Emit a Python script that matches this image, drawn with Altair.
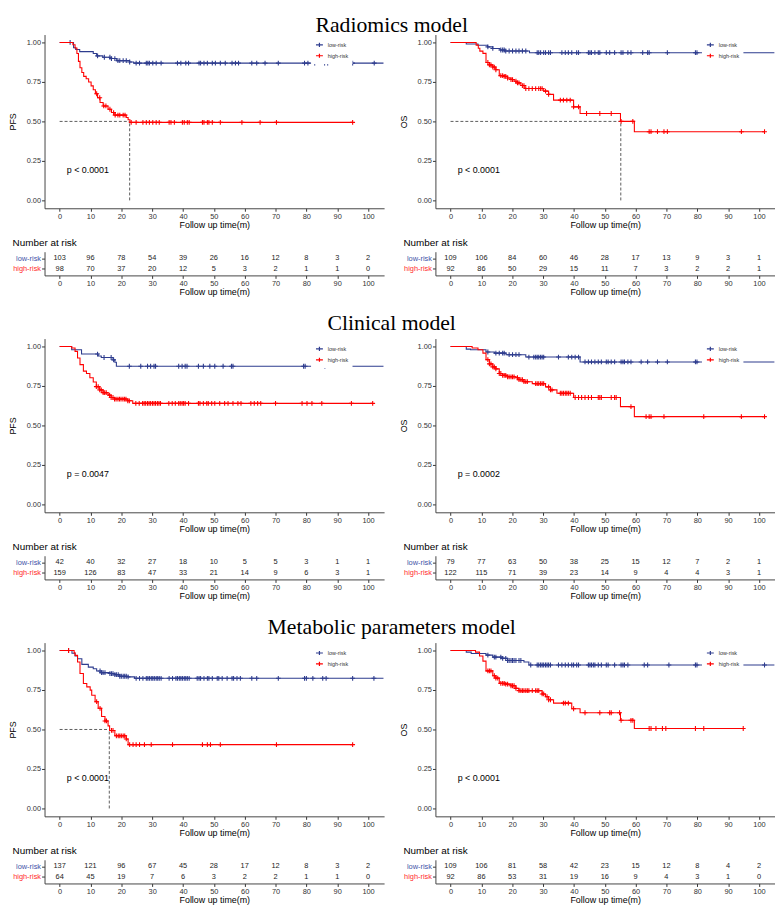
import altair as alt
import pandas as pd

BLUE = "#2E3C8E"
RED = "#FF0000"
LBL_BLUE = "#4252A8"
LBL_RED = "#FF2A2A"
AXC = "#333333"
SANS = "Liberation Sans"
SERIF = "Liberation Serif"

GROUPS = ["low-risk", "high-risk"]
MONTHS = [0, 10, 20, 30, 40, 50, 60, 70, 80, 90, 100]
ROW_TITLES = ["Radiomics model", "Clinical model", "Metabolic parameters model"]

# ---------------- Radiomics PFS ----------------
A_low_t = [0, 4.5, 5.2, 6.5, 10.9, 12.0, 14.0, 16.4, 18.5, 22.7, 24.0, 105]
A_low_s = [1, 0.966, 0.955, 0.942, 0.93, 0.915, 0.906, 0.898, 0.885, 0.876, 0.869, 0.869]
A_high_t = [0, 4.3, 5.0, 5.6, 6.1, 6.6, 7.2, 7.8, 8.6, 9.4, 10.2, 10.9, 11.6, 12.3, 13.1, 14.1, 15.7, 16.8, 17.9, 21.6, 22.2, 22.8, 95]
A_high_s = [1, 0.985, 0.965, 0.93, 0.88, 0.84, 0.81, 0.785, 0.77, 0.75, 0.725, 0.70, 0.675, 0.65, 0.62, 0.598, 0.577, 0.556, 0.54, 0.525, 0.51, 0.494, 0.494]
A_cens_low = [3.4, 12.3, 14.5, 16.3, 16.8, 17.9, 18.9, 19.5, 20.6, 21.6, 22.7, 24.8, 25.9, 28.1, 28.6, 29.1, 30.2, 31.3, 32.9, 38.2, 39.3, 40.9, 41.8, 45.2, 45.7, 46.8, 47.9, 49.5, 50.5, 52.1, 53.7, 55.9, 57.0, 58.0, 62.3, 63.9, 66.6, 70.9, 79.4, 80.5, 82.7, 85.9, 86.9, 95.0, 102.0]
A_cens_high = [12.0, 13.0, 14.3, 15.0, 16.3, 17.5, 18.0, 18.9, 19.5, 20.6, 21.2, 23.2, 24.8, 27.0, 28.1, 29.1, 30.2, 31.3, 32.3, 35.5, 36.1, 37.2, 39.8, 40.4, 41.4, 42.0, 46.3, 46.8, 47.9, 48.4, 49.5, 52.1, 59.1, 65.0, 70.3, 95.0]
A_risk_low = [103, 96, 78, 54, 39, 26, 16, 12, 8, 3, 2]
A_risk_high = [98, 70, 37, 20, 12, 5, 3, 2, 1, 1, 0]

# ---------------- Radiomics OS ----------------
B_low_t = [0, 5.1, 8.9, 12.0, 13.7, 16.0, 17.5, 25.6, 105]
B_low_s = [1, 0.99, 0.982, 0.972, 0.962, 0.952, 0.946, 0.935, 0.935]
B_high_t = [0, 8.3, 9.0, 9.5, 10.5, 11.5, 12.6, 13.7, 14.7, 15.8, 17.4, 18.5, 19.6, 20.6, 21.7, 22.8, 24.1, 30.2, 31.8, 33.4, 39.9, 42.0, 55.1, 59.6, 101.8]
B_high_s = [1, 0.983, 0.963, 0.945, 0.931, 0.873, 0.858, 0.844, 0.827, 0.79, 0.785, 0.775, 0.765, 0.754, 0.744, 0.727, 0.708, 0.692, 0.671, 0.635, 0.592, 0.55, 0.5, 0.435, 0.435]
B_cens_low = [12.1, 13.7, 16.3, 16.9, 17.4, 17.9, 19.0, 20.1, 21.2, 22.2, 23.3, 24.4, 28.1, 28.6, 29.2, 30.2, 30.8, 31.8, 32.4, 36.1, 37.2, 38.2, 39.3, 40.9, 41.5, 44.7, 45.2, 45.7, 46.8, 47.9, 48.4, 50.5, 51.6, 53.2, 55.3, 55.9, 57.5, 58.5, 62.3, 63.9, 64.4, 70.3, 79.4, 79.9]
B_cens_high = [12.1, 12.6, 13.1, 13.7, 14.2, 14.7, 16.3, 16.9, 17.4, 17.9, 18.5, 19.6, 20.1, 21.2, 21.7, 22.2, 23.3, 23.8, 24.4, 25.4, 26.5, 27.6, 28.6, 29.2, 29.7, 30.8, 31.8, 35.6, 36.6, 37.7, 38.8, 39.9, 41.5, 44.1, 48.4, 52.1, 55.3, 59.1, 64.4, 65.0, 67.1, 69.2, 70.3, 94.3, 101.8]
B_risk_low = [109, 106, 84, 60, 46, 28, 17, 13, 9, 3, 1]
B_risk_high = [92, 86, 50, 29, 15, 11, 7, 3, 2, 2, 1]

# ---------------- Clinical PFS ----------------
C_low_t = [0, 3.9, 7.1, 12.5, 13.5, 17.3, 17.9, 18.4, 105]
C_low_s = [1, 0.979, 0.952, 0.94, 0.93, 0.915, 0.9, 0.875, 0.875]
C_high_t = [0, 3.9, 5.0, 5.8, 6.6, 7.7, 8.7, 9.8, 10.9, 11.9, 13.0, 14.1, 15.7, 16.7, 17.8, 22.1, 23.7, 101.5]
C_high_s = [1, 0.99, 0.969, 0.927, 0.885, 0.844, 0.829, 0.802, 0.775, 0.746, 0.725, 0.708, 0.692, 0.677, 0.667, 0.656, 0.64, 0.64]
C_cens_low = [12.3, 14.4, 16.7, 17.5, 22.6, 26.3, 28.5, 29.5, 30.6, 31.1, 38.6, 39.7, 40.7, 41.3, 45.0, 46.6, 48.7, 50.3, 53.0, 55.7, 56.2, 79.1, 79.6, 86.0]
C_cens_high = [11.9, 12.5, 13.0, 13.5, 14.1, 14.6, 15.1, 16.2, 16.7, 17.3, 17.8, 18.3, 18.9, 19.4, 19.9, 20.5, 21.0, 21.5, 22.1, 22.6, 24.7, 25.8, 26.9, 27.4, 27.9, 28.5, 29.0, 29.5, 30.1, 30.6, 31.1, 31.7, 32.2, 32.7, 35.4, 36.5, 37.5, 38.6, 39.1, 39.7, 40.2, 40.7, 41.8, 45.0, 45.5, 46.6, 47.7, 48.2, 49.3, 50.3, 51.9, 53.5, 54.6, 56.2, 57.8, 58.8, 62.0, 63.1, 64.2, 65.2, 70.0, 78.6, 80.2, 81.8, 85.0, 94.6, 101.5]
C_risk_low = [42, 40, 32, 27, 18, 10, 5, 5, 3, 1, 1]
C_risk_high = [159, 126, 83, 47, 33, 21, 14, 9, 6, 3, 1]

# ---------------- Clinical OS ----------------
D_low_t = [0, 5.1, 6.5, 11.5, 14.2, 18.0, 24.4, 42.0, 105]
D_low_s = [1, 0.983, 0.979, 0.965, 0.958, 0.948, 0.933, 0.902, 0.902]
D_high_t = [0, 7.0, 8.9, 10.5, 11.5, 12.6, 13.7, 14.7, 15.8, 16.9, 18.5, 21.2, 22.2, 23.8, 26.5, 30.8, 32.4, 34.5, 39.9, 55.1, 59.6, 101.8]
D_high_s = [1, 0.99, 0.979, 0.958, 0.917, 0.89, 0.871, 0.858, 0.829, 0.817, 0.808, 0.802, 0.79, 0.777, 0.765, 0.744, 0.725, 0.704, 0.677, 0.619, 0.556, 0.556]
D_cens_low = [12.1, 14.7, 15.8, 16.9, 17.4, 19.0, 20.1, 21.2, 22.2, 25.4, 27.0, 27.6, 28.1, 28.6, 29.2, 29.7, 30.2, 35.0, 38.2, 39.3, 40.4, 41.5, 43.6, 44.7, 45.7, 46.8, 47.9, 48.9, 50.5, 51.1, 52.1, 53.2, 55.3, 55.9, 56.4, 57.5, 58.5, 61.8, 63.9, 67.1, 70.3, 79.4, 79.9]
D_cens_high = [12.1, 12.6, 13.1, 13.7, 14.2, 14.7, 15.8, 16.3, 16.9, 17.4, 17.9, 18.5, 19.0, 19.6, 20.1, 20.6, 21.7, 22.2, 22.8, 23.3, 23.8, 24.4, 24.9, 27.6, 28.1, 28.6, 29.2, 29.7, 30.2, 31.8, 32.4, 32.9, 35.6, 36.1, 36.6, 37.2, 37.7, 38.2, 38.8, 40.4, 41.5, 42.5, 43.6, 44.7, 45.7, 47.9, 48.4, 48.9, 52.1, 53.2, 53.7, 58.5, 63.4, 64.4, 65.0, 69.2, 82.1, 94.3, 101.8]
D_risk_low = [79, 77, 63, 50, 38, 25, 15, 12, 7, 2, 1]
D_risk_high = [122, 115, 71, 39, 23, 14, 9, 4, 4, 3, 1]

# ---------------- Metabolic PFS ----------------
E_low_t = [0, 4.0, 5.0, 5.8, 7.2, 9.3, 10.9, 12.0, 13.6, 16.3, 17.9, 19.5, 22.2, 24.3, 105]
E_low_s = [1, 0.983, 0.965, 0.948, 0.912, 0.895, 0.885, 0.87, 0.86, 0.854, 0.847, 0.837, 0.833, 0.824, 0.824]
E_high_t = [0, 4.7, 5.0, 5.8, 6.6, 7.7, 8.8, 9.9, 10.4, 11.5, 12.5, 13.6, 14.7, 15.7, 16.2, 17.9, 21.6, 22.2, 95]
E_high_s = [1, 0.985, 0.969, 0.927, 0.854, 0.791, 0.77, 0.749, 0.717, 0.676, 0.634, 0.582, 0.554, 0.523, 0.494, 0.46, 0.44, 0.404, 0.404]
E_cens_low = [2.9, 13.1, 13.6, 14.1, 14.7, 16.3, 16.8, 17.3, 17.9, 18.4, 19.0, 19.5, 20.0, 20.6, 21.1, 21.6, 22.2, 24.8, 25.9, 27.0, 28.1, 28.6, 29.1, 29.7, 30.2, 30.7, 31.3, 31.8, 32.3, 32.9, 35.5, 36.6, 37.7, 38.2, 38.8, 39.3, 39.8, 40.4, 40.9, 41.4, 42.0, 44.6, 45.2, 45.7, 46.8, 47.9, 48.4, 49.5, 51.1, 51.6, 52.7, 54.3, 55.9, 56.4, 57.5, 58.6, 62.3, 63.9, 70.9, 79.4, 80.0, 82.1, 85.3, 86.4, 95.0, 101.9]
E_cens_high = [2.9, 12.0, 13.1, 14.7, 15.2, 16.8, 17.3, 18.4, 19.0, 19.5, 20.0, 20.6, 21.1, 21.6, 22.7, 23.8, 24.8, 25.9, 27.5, 29.7, 36.6, 46.3, 47.9, 48.9, 52.1, 70.3, 95.0]
E_risk_low = [137, 121, 96, 67, 45, 28, 17, 12, 8, 3, 2]
E_risk_high = [64, 45, 19, 7, 6, 3, 2, 2, 1, 1, 0]

# ---------------- Metabolic OS ----------------
F_low_t = [0, 5.1, 6.7, 11.5, 13.7, 16.9, 18.5, 23.8, 25.4, 105]
F_low_s = [1, 0.99, 0.981, 0.971, 0.958, 0.95, 0.937, 0.927, 0.908, 0.908]
F_high_t = [0, 8.1, 9.4, 10.5, 11.5, 13.7, 14.7, 15.8, 17.9, 19.6, 21.2, 22.2, 29.7, 30.8, 31.8, 33.4, 39.3, 42.0, 55.1, 59.6, 94.9]
F_high_s = [1, 0.99, 0.965, 0.933, 0.871, 0.84, 0.825, 0.792, 0.787, 0.777, 0.76, 0.746, 0.725, 0.708, 0.688, 0.667, 0.631, 0.606, 0.558, 0.506, 0.506]
F_cens_low = [12.1, 14.2, 14.7, 16.3, 16.9, 17.9, 18.5, 19.0, 19.6, 20.1, 20.6, 21.2, 22.2, 22.8, 26.0, 28.1, 28.6, 29.2, 29.7, 30.2, 30.8, 31.3, 31.8, 32.4, 35.0, 36.1, 37.2, 38.2, 39.3, 39.9, 40.9, 41.5, 44.7, 45.2, 45.7, 46.3, 46.8, 47.9, 48.9, 50.5, 51.1, 53.2, 55.3, 55.9, 56.4, 57.5, 62.8, 63.9, 70.8, 79.4, 79.9, 101.8]
F_cens_high = [12.1, 12.6, 13.1, 14.2, 14.7, 15.3, 16.3, 16.9, 17.4, 17.9, 18.5, 19.6, 20.1, 20.6, 21.2, 22.2, 22.8, 23.3, 23.8, 24.4, 24.9, 25.4, 26.5, 27.6, 28.1, 28.6, 29.7, 30.2, 31.3, 31.8, 32.4, 36.6, 37.2, 38.2, 39.9, 43.6, 48.4, 51.6, 52.1, 54.8, 55.3, 58.5, 59.1, 64.4, 65.0, 66.6, 68.7, 69.8, 79.4, 82.1, 94.9]
F_risk_low = [109, 106, 81, 58, 42, 23, 15, 12, 8, 4, 2]
F_risk_high = [92, 86, 53, 31, 19, 16, 9, 4, 3, 1, 0]

MEDIANS = {"A": 22.7, "B": 55.2, "E": 16.1}
P_TEXT = {"A": "p < 0.0001", "B": "p < 0.0001", "C": "p = 0.0047",
          "D": "p = 0.0002", "E": "p < 0.0001", "F": "p < 0.0001"}
Y_TITLE = {"A": "PFS", "B": "OS", "C": "PFS", "D": "OS", "E": "PFS", "F": "OS"}

G = globals()

W = 344
H = 176
TH = 24

XS = alt.Scale(domain=[-4.9, 105.2], nice=False, zero=False)
YS = alt.Scale(domain=[-0.05, 1.05], nice=False, zero=False)
CS = alt.Scale(domain=GROUPS, range=[BLUE, RED])

XAXIS = alt.Axis(values=MONTHS, title="Follow up time(m)", titleFont=SANS, titleFontSize=9,
                 titleFontWeight="normal", titleColor="black", titlePadding=1,
                 labelFont=SANS, labelFontSize=7.5, labelColor=AXC, labelPadding=1,
                 labelOverlap=False, tickSize=3, tickColor=AXC, domainColor="#444444",
                 grid=False, labelFlush=False)


def yaxis(title):
    return alt.Axis(values=[0, 0.25, 0.5, 0.75, 1.0], format=".2f", title=title,
                    titleFont=SANS, titleFontSize=9, titleFontWeight="normal", titleColor="black",
                    titlePadding=9, labelFont=SANS, labelFontSize=7.5, labelColor=AXC,
                    labelPadding=1, labelOverlap=False, tickSize=3, tickColor=AXC,
                    domainColor="#444444", grid=False)


LEG = alt.Legend(title=None, orient="none", legendX=270, legendY=2,
                 symbolType="M-1,0H1M0,-0.6V0.6", symbolSize=49, symbolStrokeWidth=1.2,
                 labelFont=SANS, labelFontSize=5.5, labelColor="#333333", labelOffset=4,
                 rowPadding=2, padding=4, fillColor="white")


def step_value(ts, ss, c):
    v = ss[0]
    for t, s in zip(ts, ss):
        if t <= c:
            v = s
        else:
            break
    return v


def km_chart(k):
    lt, ls = G[k + "_low_t"], G[k + "_low_s"]
    ht, hs = G[k + "_high_t"], G[k + "_high_s"]
    low = pd.DataFrame({"time": lt, "surv": ls, "group": "low-risk"})
    high = pd.DataFrame({"time": ht, "surv": hs, "group": "high-risk"})
    cl = G[k + "_cens_low"]
    ch = G[k + "_cens_high"]
    cens_low = pd.DataFrame({"time": cl, "surv": [step_value(lt, ls, c) for c in cl], "group": "low-risk"})
    cens_high = pd.DataFrame({"time": ch, "surv": [step_value(ht, hs, c) for c in ch], "group": "high-risk"})

    yax = yaxis(Y_TITLE[k])
    x = alt.X("time:Q", scale=XS, axis=XAXIS)
    y = alt.Y("surv:Q", scale=YS, axis=yax)
    col = alt.Color("group:N", scale=CS, legend=LEG)

    layers = []
    if k in MEDIANS:
        m = MEDIANS[k]
        med = pd.DataFrame({"time": [0, m], "time2": [m, m], "surv": [0.5, 0.0], "surv2": [0.5, 0.5]})
        layers.append(alt.Chart(med).mark_rule(color="#333333", strokeWidth=0.8, strokeDash=[3, 2]).encode(
            x=x, x2="time2:Q", y=y, y2="surv2:Q"))

    def line(df):
        return alt.Chart(df).mark_line(interpolate="step-after", strokeWidth=1.1, clip=True).encode(
            x=x, y=y, color=col)

    def pts(df):
        return alt.Chart(df).mark_point(shape="M-1,0H1M0,-1V1", size=24, filled=False,
                                        strokeWidth=1.1, opacity=1, clip=True).encode(
            x=x, y=y, color=col)

    layers += [line(low), pts(cens_low), line(high), pts(cens_high)]
    ptxt = pd.DataFrame({"label": [P_TEXT[k]]})
    layers.append(alt.Chart(ptxt).mark_text(align="left", baseline="middle", font=SANS, fontSize=9,
                                            color="black").encode(
        x=alt.X(datum=2.3, type="quantitative", scale=XS, axis=XAXIS),
        y=alt.Y(datum=0.19, type="quantitative", scale=YS, axis=yax),
        text="label:N"))
    return alt.layer(*layers).properties(width=W, height=H)


def risk_chart(k):
    df = pd.DataFrame({"time": MONTHS * 2,
                       "group": ["low-risk"] * len(MONTHS) + ["high-risk"] * len(MONTHS),
                       "n": G[k + "_risk_low"] + G[k + "_risk_high"]})
    yax = alt.Axis(title=None, labelFont=SANS, labelFontSize=7.5, labelPadding=1, tickSize=3,
                   tickColor=AXC, domainColor="#444444", grid=False,
                   labelColor={"condition": {"test": "datum.value == 'low-risk'", "value": LBL_BLUE},
                               "value": LBL_RED})
    return alt.Chart(df).mark_text(font=SANS, fontSize=7.5, color="#222222").encode(
        x=alt.X("time:Q", scale=XS, axis=XAXIS),
        y=alt.Y("group:N", scale=alt.Scale(type="point", domain=GROUPS, padding=0.65), axis=yax),
        text="n:Q",
    ).properties(width=W, height=TH,
                 title=alt.TitleParams("Number at risk", anchor="start", font=SANS, fontSize=10,
                                       fontWeight="normal", color="black", offset=4))


def panel(k):
    return alt.vconcat(km_chart(k), risk_chart(k), spacing=8).resolve_scale(
        color="independent").resolve_legend(color="independent")


rows = []
TITLE_OFFSETS = [-2, 4, 4]
for title, off, (a, b) in zip(ROW_TITLES, TITLE_OFFSETS, [("A", "B"), ("C", "D"), ("E", "F")]):
    r = alt.hconcat(panel(a), panel(b), spacing=15).resolve_scale(
        color="independent").resolve_legend(color="independent").properties(
        title=alt.TitleParams(title, font=SERIF, fontSize=22, fontWeight="normal",
                              anchor="middle", color="black", offset=off))
    rows.append(r)

chart = alt.vconcat(*rows, spacing=15).resolve_scale(color="independent").resolve_legend(
    color="independent").properties(padding={"left": 0, "top": 0, "right": 0, "bottom": 0}
).configure(font=SANS).configure_view(strokeWidth=0)

chart.save("out.html", embed_options={"renderer": "svg", "actions": False})
